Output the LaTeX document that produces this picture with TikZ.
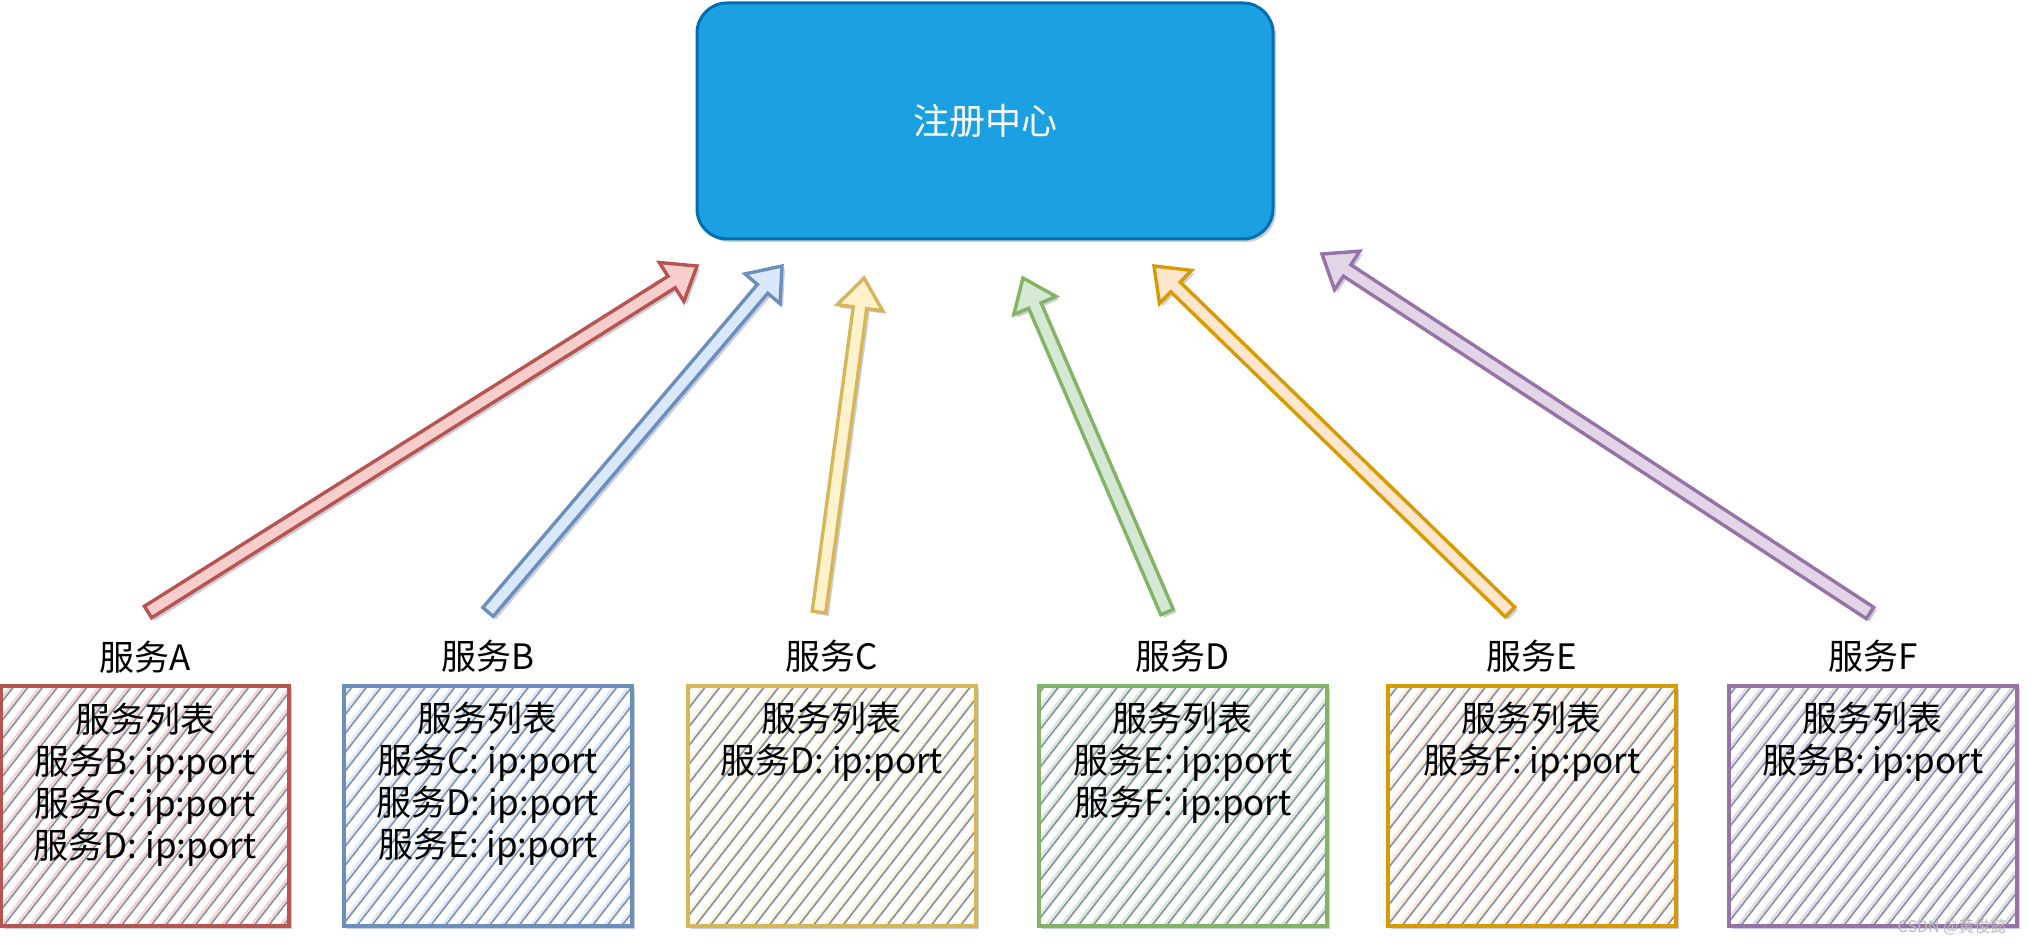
\documentclass[tikz,border=0pt]{standalone}
\usepackage{fontspec}
\setmainfont{Noto Sans CJK SC}
\usepackage{xcolor}
\usepackage{tikz}
\usetikzlibrary{positioning, calc, shadows, patterns.meta}

\definecolor{regfill}{HTML}{1BA1E2}
\definecolor{regline}{HTML}{006EAF}
\definecolor{strokeA}{HTML}{B85450}
\definecolor{fillA}{HTML}{F8CECC}
\definecolor{strokeB}{HTML}{6C8EBF}
\definecolor{fillB}{HTML}{DAE8FC}
\definecolor{strokeC}{HTML}{D6B656}
\definecolor{fillC}{HTML}{FFF2CC}
\definecolor{strokeD}{HTML}{82B366}
\definecolor{fillD}{HTML}{D5E8D4}
\definecolor{strokeE}{HTML}{D79B00}
\definecolor{fillE}{HTML}{FFE6CC}
\definecolor{strokeF}{HTML}{9673A6}
\definecolor{fillF}{HTML}{E1D5E7}
\definecolor{shade}{HTML}{8A93A8}

\begin{document}
\begin{tikzpicture}[x=0.5pt, y=-0.5pt,
    every node/.style={font=\fontsize{17.5pt}{21pt}\selectfont},
    soft/.style={drop shadow={shadow xshift=1.5pt, shadow yshift=-1.5pt,
        opacity=0.45, fill=shade}},
    reg/.style={soft, draw=regline, fill=regfill, line width=1.5pt,
        rounded corners=15pt, minimum width=288pt, minimum height=118pt,
        text=white, font=\fontsize{18pt}{22pt}\selectfont},
    svc/.style={soft, line width=2pt, minimum width=144pt, minimum height=120pt,
        preaction={fill=white},
        preaction={pattern={Lines[angle=52, distance=5.8pt, line width=0.9pt, xshift=1.6pt]},
            pattern color=shade},
        pattern={Lines[angle=52, distance=5.8pt, line width=0.9pt]}},
    svcA/.style={svc, draw=strokeA, pattern color=fillA},
    svcB/.style={svc, draw=strokeB, pattern color=fillB},
    svcC/.style={svc, draw=strokeC, pattern color=fillC},
    svcD/.style={svc, draw=strokeD, pattern color=fillD},
    svcE/.style={svc, draw=strokeE, pattern color=fillE},
    svcF/.style={svc, draw=strokeF, pattern color=fillF},
    lbl/.style={inner sep=0pt},
    list/.style={inner sep=0pt, align=center},
    upar/.style={soft, line width=1.7pt, line join=miter},
    wmark/.style={inner sep=0pt, text=gray!55, font=\fontsize{8pt}{9pt}\selectfont},
]
\useasboundingbox (0,0) rectangle (2036,945);

% ---- registry ----
\node[reg] (reg) at (985,121) {注册中心};

% ---- service boxes ----
\node[svcA] (boxA) at (145,806) {};
\node[svcB, right=26pt of boxA] (boxB) {};
\node[svcC, right=26pt of boxB] (boxC) {};
\node[svcD, right=29.5pt of boxC] (boxD) {};
\node[svcE, right=28.5pt of boxD] (boxE) {};
\node[svcF, right=24.5pt of boxE] (boxF) {};

% service names
\node[lbl, above=5.5pt of boxA] (lblA) {服务A};
\node[lbl, above=5.5pt of boxB] (lblB) {服务B};
\node[lbl, above=5.5pt of boxC] (lblC) {服务C};
\node[lbl, above=5.5pt of boxD] (lblD) {服务D};
\node[lbl, above=5.5pt of boxE] (lblE) {服务E};
\node[lbl, above=5.5pt of boxF] (lblF) {服务F};

% service lists
\node[list, below=9pt of boxA.north] (listA)
    {服务列表\\服务B: ip:port\\服务C: ip:port\\服务D: ip:port};
\node[list, below=9pt of boxB.north] (listB)
    {服务列表\\服务C: ip:port\\服务D: ip:port\\服务E: ip:port};
\node[list, below=9pt of boxC.north] (listC)
    {服务列表\\服务D: ip:port};
\node[list, below=9pt of boxD.north] (listD)
    {服务列表\\服务E: ip:port\\服务F: ip:port};
\node[list, below=9pt of boxE.north] (listE)
    {服务列表\\服务F: ip:port};
\node[list, below=9pt of boxF.north] (listF)
    {服务列表\\服务B: ip:port};

% ---- register arrows (block arrows up to the registry) ----
\foreach \s/\tx/\ty/\hx/\hy in {A/148/612/697/266, B/488/612/782/266,
        C/819/612/864/278, D/1167/612/1023/278,
        E/1510/612/1154/266, F/1870/613/1322/254} {
    \coordinate (tail\s) at (\tx,\ty);
    \coordinate (tip\s) at (\hx,\hy);
    \coordinate (base\s) at ($(tip\s)!15pt!(tail\s)$);
    \draw[upar, draw=stroke\s, fill=fill\s]
        ($(tail\s)!3.4pt!90:(tip\s)$) -- ($(base\s)!3.4pt!90:(tip\s)$)
        -- ($(base\s)!11.5pt!90:(tip\s)$) -- (tip\s)
        -- ($(base\s)!11.5pt!-90:(tip\s)$) -- ($(base\s)!3.4pt!-90:(tip\s)$)
        -- ($(tail\s)!3.4pt!-90:(tip\s)$) -- cycle;
}

\node[wmark] (csdn) at (1952,927) {CSDN @黄俊懿};

\end{tikzpicture}
\end{document}
